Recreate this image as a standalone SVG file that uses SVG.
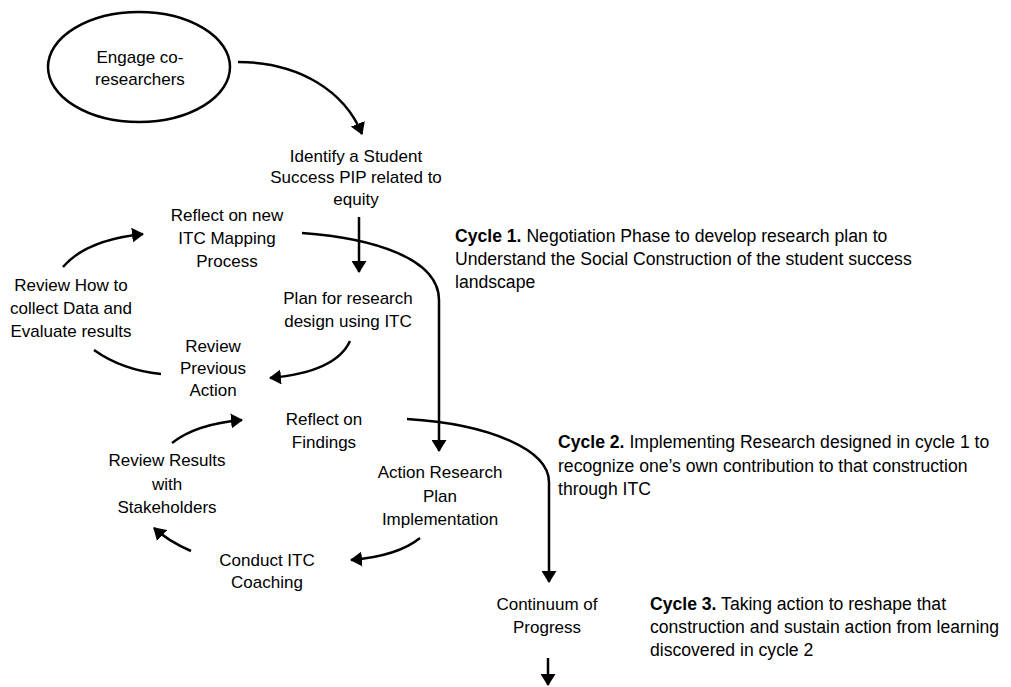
<svg xmlns="http://www.w3.org/2000/svg" width="1011" height="687" viewBox="0 0 1011 687">
<style>
  .t { font-family: "Liberation Sans", Arial, sans-serif; font-size: 17px; fill: #000; }
  .cy { font-size: 17.6px; }
  .c { text-anchor: middle; }
  .b { font-weight: bold; }
  .con { fill: none; stroke: #000; stroke-width: 2.5; }
  .arr { marker-end: url(#ah); }
</style>
<defs>
  <marker id="ah" viewBox="0 0 12 15" refX="11" refY="7.5" markerWidth="12" markerHeight="15" markerUnits="userSpaceOnUse" orient="auto">
    <path d="M0,0 L12,7.5 L0,15 z" fill="#000"/>
  </marker>
</defs>
<rect width="1011" height="687" fill="#fff"/>

<g id="connectors">
  <path class="con arr" d="M238,62 C300,62 345,92 362,134"/>
  <path class="con arr" d="M359,217 L359,272"/>
  <path class="con arr" d="M302,233 C372,238 439,258 439,300 L439,451"/>
  <path class="con arr" d="M350,341 Q336,372 270,378"/>
  <path class="con" d="M161,374 Q122,370 94,350"/>
  <path class="con arr" d="M63,267 Q86,240 143,234"/>
  <path class="con arr" d="M407,419 C490,424 549,450 549,482 L549,582"/>
  <path class="con arr" d="M420,538 Q398,556 351,560"/>
  <path class="con arr" d="M191,551 Q168,541 154,528"/>
  <path class="con arr" d="M172,443 Q196,424 242,420"/>
  <path class="con arr" d="M548,658 L548,685"/>
</g>

<g id="engage">
  <ellipse cx="139" cy="67" rx="91" ry="55" fill="none" stroke="#000" stroke-width="2.5"/>
  <text class="t c" x="140" y="63">Engage co-</text>
  <text class="t c" x="140" y="85">researchers</text>
</g>
<g id="identify">
  <text class="t c" x="356" y="162">Identify a Student</text>
  <text class="t c" x="356" y="183">Success PIP related to</text>
  <text class="t c" x="356" y="205">equity</text>
</g>
<g id="reflect-new">
  <text class="t c" x="227" y="221">Reflect on new</text>
  <text class="t c" x="227" y="244">ITC Mapping</text>
  <text class="t c" x="227" y="267">Process</text>
</g>
<g id="review-how">
  <text class="t c" x="71" y="291">Review How to</text>
  <text class="t c" x="71" y="314">collect Data and</text>
  <text class="t c" x="71" y="337">Evaluate results</text>
</g>
<g id="plan">
  <text class="t c" x="348" y="304">Plan for research</text>
  <text class="t c" x="348" y="327">design using ITC</text>
</g>
<g id="review-previous">
  <text class="t c" x="213" y="352">Review</text>
  <text class="t c" x="213" y="374">Previous</text>
  <text class="t c" x="213" y="396">Action</text>
</g>
<g id="reflect-findings">
  <text class="t c" x="324" y="425">Reflect on</text>
  <text class="t c" x="324" y="448">Findings</text>
</g>
<g id="action-plan">
  <text class="t c" x="440" y="478">Action Research</text>
  <text class="t c" x="440" y="502">Plan</text>
  <text class="t c" x="440" y="525">Implementation</text>
</g>
<g id="review-results">
  <text class="t c" x="167" y="466">Review Results</text>
  <text class="t c" x="167" y="490">with</text>
  <text class="t c" x="167" y="513">Stakeholders</text>
</g>
<g id="conduct">
  <text class="t c" x="267" y="566">Conduct ITC</text>
  <text class="t c" x="267" y="588">Coaching</text>
</g>
<g id="continuum">
  <text class="t c" x="547" y="610">Continuum of</text>
  <text class="t c" x="547" y="633">Progress</text>
</g>
<g id="cycle1">
  <text class="t cy" x="455" y="242"><tspan class="b">Cycle 1.</tspan> Negotiation Phase to develop research plan to</text>
  <text class="t cy" x="455" y="265">Understand the Social Construction of the student success</text>
  <text class="t cy" x="455" y="288">landscape</text>
</g>
<g id="cycle2">
  <text class="t cy" x="558" y="448"><tspan class="b">Cycle 2.</tspan> Implementing Research designed in cycle 1 to</text>
  <text class="t cy" x="558" y="472">recognize one’s own contribution to that construction</text>
  <text class="t cy" x="558" y="495">through ITC</text>
</g>
<g id="cycle3">
  <text class="t cy" x="650" y="610"><tspan class="b">Cycle 3.</tspan> Taking action to reshape that</text>
  <text class="t cy" x="650" y="633">construction and sustain action from learning</text>
  <text class="t cy" x="650" y="656">discovered in cycle 2</text>
</g>
</svg>
